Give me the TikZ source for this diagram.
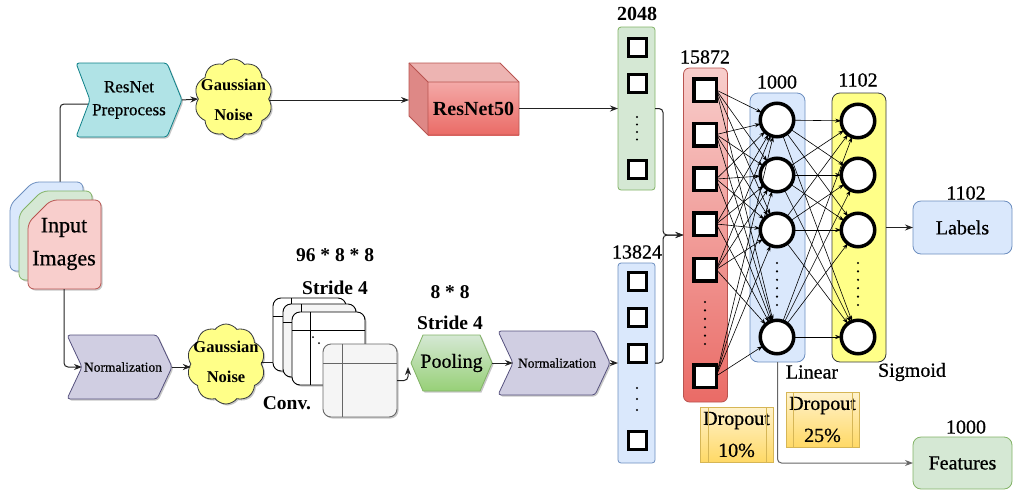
\documentclass[tikz,border=0pt]{standalone}
\usepackage{fontspec}
\setmainfont{Liberation Serif}
\newfontfamily\rgf{Liberation Serif}[FakeBold=0.6]
\usetikzlibrary{shapes.symbols,shapes.geometric,arrows.meta,calc,shadows}
\definecolor{bluef}{HTML}{DAE8FC}
\definecolor{bluel}{HTML}{6C8EBF}
\definecolor{greenf}{HTML}{D5E8D4}
\definecolor{greenl}{HTML}{82B366}
\definecolor{redf}{HTML}{F8CECC}
\definecolor{redd}{HTML}{EA6B66}
\definecolor{redl}{HTML}{B85450}
\definecolor{tealf}{HTML}{B0E3E6}
\definecolor{teall}{HTML}{0E8088}
\definecolor{purf}{HTML}{D0CEE2}
\definecolor{purl}{HTML}{56517E}
\definecolor{yelf}{HTML}{FFFF88}
\definecolor{yell}{HTML}{36393D}
\definecolor{orf}{HTML}{FFF2CC}
\definecolor{ord}{HTML}{FFD966}
\definecolor{orl}{HTML}{D6B656}
\definecolor{grf}{HTML}{F5F5F5}
\definecolor{grl}{HTML}{666666}
\definecolor{pgd}{HTML}{97D077}
\definecolor{linec}{HTML}{222222}
\definecolor{cubetop}{HTML}{EDB4B2}
\definecolor{cubeside}{HTML}{DE8886}
\definecolor{cubefront}{HTML}{F4A9A7}
\begin{document}
\begin{tikzpicture}[x=1pt,y=-1pt,
  every node/.style={inner sep=0pt, outer sep=0pt},
  shad/.style={drop shadow={shadow xshift=1.5pt, shadow yshift=-1.5pt, opacity=0.22, fill=black}},
  conn/.style={draw=linec, line width=1pt, rounded corners=4pt},
  arr/.style={conn, -{Stealth[length=8pt,width=6pt]}},
  fc/.style={draw=black, line width=0.6pt, -{Stealth[length=6pt,width=4pt]}},
  lab/.style={font=\rgf\fontsize{20}{24}\selectfont},
  blab/.style={font=\bfseries\fontsize{19.5}{24}\selectfont},
  sqs/.style={rectangle, draw=black, fill=white, line width=3pt, minimum size=18pt},
  sqb/.style={rectangle, draw=black, fill=white, line width=3.5pt, minimum size=22.5pt},
  neuron/.style={circle, draw=black, fill=white, line width=3.5pt, minimum size=33.5pt},
  gauss/.style={cloud, cloud puffs=10, cloud puff arc=105, cloud ignores aspect, draw=yell, fill=yelf, line width=0.8pt, minimum width=78pt, minimum height=80pt, shad},
  gtext/.style={align=center, font=\bfseries\fontsize{16.5}{30}\selectfont},
  cardbox/.style={rectangle, draw=black, line width=0.9pt, rounded corners=8pt, minimum width=73pt, minimum height=73pt},
  col/.style={rectangle, line width=0.8pt, rounded corners=3pt},
  dropbox/.style={rectangle, draw=orl, top color=orf, bottom color=ord, line width=0.8pt, minimum width=73pt, minimum height=55pt, align=center, font=\rgf\fontsize{20}{32}\selectfont},
  outbox/.style={rectangle, line width=0.8pt, rounded corners=8pt, minimum width=99pt, minimum height=53pt, font=\rgf\fontsize{20}{24}\selectfont}
]
\useasboundingbox (0,0) rectangle (1013,491);

% ---------- input images ----------
\coordinate (inpt) at (60,182);
\coordinate (inpb) at (64,289);
\coordinate (prein) at (89,104);
\draw[conn] (inpt) |- (prein);
\draw[draw=bluel, fill=bluef, line width=0.8pt, rounded corners=6pt, shad] (10,205) -- (33,182) -- (83,182) -- (83,271) -- (10,271) -- cycle;
\draw[draw=greenl, fill=greenf, line width=0.8pt, rounded corners=6pt, shad] (19,214) -- (42,191) -- (92,191) -- (92,280) -- (19,280) -- cycle;
\draw[draw=redl, fill=redf, line width=0.8pt, rounded corners=6pt, shad] (28,223) -- (51,200) -- (101,200) -- (101,289) -- (28,289) -- cycle;
\node[align=center, font=\rgf\fontsize{22}{33}\selectfont] (inp) at (64,244) {Input\\Images};

% ---------- top branch ----------
\draw[draw=teall, fill=tealf, line width=0.8pt, rounded corners=3pt, shad] (76,63) -- (167,63) -- (182,100) -- (167,137) -- (76,137) -- (90,100) -- cycle;
\node[align=center, font=\rgf\fontsize{17}{23}\selectfont] (pre) at (129,100) {ResNet\\Preprocess};
\coordinate (pretip) at (182,100);
\node[gauss] (cl1) at (233.5,99) {};
\node[gtext] (gt1) at (233.5,100) {Gaussian\\Noise};
\draw[arr] (pretip) -- (cl1.west);

% cube
\fill[cubeside] (409,63) -- (428,82) -- (428,135) -- (409,116) -- cycle;
\fill[cubetop] (409,63) -- (500,63) -- (519,82) -- (428,82) -- cycle;
\shade[top color=cubefront, bottom color=redd] (428,82) rectangle (519,135);
\draw[redl, line width=0.8pt, line join=round] (409,63) -- (500,63) -- (519,82) -- (519,135) -- (428,135) -- (409,116) -- cycle;
\draw[redl, line width=0.8pt] (409,63) -- (428,82) -- (519,82) (428,82) -- (428,135);
\node[font=\bfseries\fontsize{20}{24}\selectfont] (res) at (473.5,108.5) {ResNet50};
\coordinate (cubein) at (409,100);
\coordinate (cubeout) at (519,108.5);
\draw[arr] (cl1.east |- cubein) -- (cubein);

% ---------- bottom branch ----------
\draw[arr] (inpb) |- (82,367);
\draw[draw=purl, fill=purf, line width=0.8pt, rounded corners=3pt, shad] (67,335) -- (157,335) -- (172,367) -- (157,399) -- (67,399) -- (82,367) -- cycle;
\node[font=\rgf\fontsize{13.5}{16}\selectfont] (norm1) at (123,367) {Normalization};
\coordinate (n1tip) at (172,367);
\node[gauss] (cl2) at (226,364) {};
\node[gtext] (gt2) at (226,362) {Gaussian\\Noise};
\draw[arr] (n1tip) -- (cl2.west |- n1tip);

% conv cards
\node[cardbox, fill=white, shad] (c1) at (309.5,334.5) {};
\draw[line width=0.9pt] ($(c1.north west)+(18,0)$) -- ($(c1.south west)+(18,0)$) ($(c1.north west)+(0,18)$) -- ($(c1.north east)+(0,18)$);
\node[cardbox, fill=grf, shad] (c2) at (319.5,340.5) {};
\draw[line width=0.9pt] ($(c2.north west)+(18,0)$) -- ($(c2.south west)+(18,0)$) ($(c2.north west)+(0,18)$) -- ($(c2.north east)+(0,18)$);
\node[cardbox, fill=white, shad] (c3) at (328.5,348.5) {};
\draw[line width=0.9pt] ($(c3.north west)+(18,0)$) -- ($(c3.south west)+(18,0)$) ($(c3.north west)+(0,18)$) -- ($(c3.north east)+(0,18)$);
\fill (313,337) circle (1pt) (319,343) circle (1pt);
\node[cardbox, fill=grf, draw=grl, minimum width=74pt, shad] (c4) at (360,380.5) {};
\draw[grl, line width=0.9pt] ($(c4.north west)+(19,0)$) -- ($(c4.south west)+(19,0)$) ($(c4.north west)+(0,19)$) -- ($(c4.north east)+(0,19)$);
\draw[conn] (cl2.east |- 0,362) -- (c1.west |- 0,362);
\node[blab] (convsz) at (335,255) {96 * 8 * 8};
\node[blab] (convst) at (335,288) {Stride 4};
\node[blab] (convl) at (287,403) {Conv.};

% pooling
\draw[draw=greenl, top color=greenf, bottom color=pgd, line width=0.8pt, shad] (411,363) -- (423,335) -- (480,335) -- (492,363) -- (480,391) -- (423,391) -- cycle;
\node[lab] (pool) at (451.5,363) {Pooling};
\coordinate (poolin) at (408,367);
\coordinate (poolout) at (492,363);
\draw[arr] (c4.east) -| (poolin);
\node[blab] (poolsz) at (450,292) {8 * 8};
\node[blab] (poolst) at (450,323) {Stride 4};

% normalization 2
\draw[draw=purl, fill=purf, line width=0.8pt, rounded corners=3pt, shad] (498,331) -- (595,331) -- (610,363) -- (595,395) -- (498,395) -- (513,363) -- cycle;
\node[font=\rgf\fontsize{13.5}{16}\selectfont] (norm2) at (557,363) {Normalization};
\draw[arr] (poolout) -- (513,363);
\coordinate (n2tip) at (610,363);

% ---------- feature columns ----------
\node[col, draw=greenl, fill=greenf, minimum width=37pt, minimum height=163pt] (gcol) at (636.5,108.5) {};
\node[font=\bfseries\fontsize{20}{24}\selectfont] (l2048) at (637,14) {2048};
\node[sqs] (g1) at (637,47) {};
\node[sqs] (g2) at (637,83) {};
\node[sqs] (g3) at (637,169) {};
\foreach \yy in {117,124.5,132,139.5} \fill (637,\yy) circle (1.2pt);

\node[col, draw=bluel, fill=bluef, minimum width=37pt, minimum height=200pt] (bcol) at (636.5,363) {};
\node[lab] (l13824) at (637,252) {13824};
\node[sqs] (b1) at (637,281) {};
\node[sqs] (b2) at (637,317) {};
\node[sqs] (b3) at (637,353) {};
\node[sqs] (b4) at (637,440) {};
\foreach \yy in {388,399,410} \fill (637,\yy) circle (1.2pt);
\draw[arr] (n2tip) -- (bcol.west);

\node[col, draw=redl, top color=redf, bottom color=redd, rounded corners=6pt, minimum width=44pt, minimum height=334pt] (rcol) at (705.5,235) {};
\node[lab] (l15872) at (705,57) {15872};
\node[sqb] (r1) at (705,90) {};
\node[sqb] (r2) at (705,134.5) {};
\node[sqb] (r3) at (705,179) {};
\node[sqb] (r4) at (705,224) {};
\node[sqb] (r5) at (705,269.5) {};
\node[sqb] (r6) at (705,376) {};
\foreach \yy in {302,310.4,318.8,327.2,335.6,344} \fill (705,\yy) circle (1.2pt);

\draw[arr] (cubeout) -- (gcol.west);
\draw[arr] (gcol.east) -- ++(8,0) |- (rcol.west);
\draw[arr] (bcol.east) -- ++(8,0) |- (rcol.west);

% ---------- dense layers ----------
\node[col, draw=bluel, fill=bluef, rounded corners=8pt, minimum width=55pt, minimum height=269pt] (lin) at (777.5,227.5) {};
\node[lab] (l1000) at (777,82) {1000};
\node[col, draw=yell, fill=yelf, rounded corners=8pt, minimum width=54pt, minimum height=269pt] (sig) at (859,227.5) {};
\node[lab] (l1102) at (858,80) {1102};
\node[neuron] (n1) at (777,120) {};
\node[neuron] (n2) at (777,175) {};
\node[neuron] (n3) at (777,230) {};
\node[neuron] (n4) at (777,337) {};
\node[neuron] (s1) at (858,121) {};
\node[neuron] (s2) at (858,175) {};
\node[neuron] (s3) at (858,230) {};
\node[neuron] (s4) at (858,337) {};
\foreach \yy in {263,271.4,279.8,288.2,296.6,305} {\fill (777,\yy) circle (1.2pt); \fill (858,\yy) circle (1.2pt);}
\foreach \i in {1,...,6} \foreach \j in {1,...,4} \draw[fc] (r\i.east) -- (n\j);
\foreach \i in {1,...,4} \foreach \j in {1,...,4} \draw[fc] (n\i) -- (s\j);
\node[lab] (llin) at (812,372) {Linear};
\node[lab] (lsig) at (912,372) {Sigmoid};

% dropout boxes
\node[dropbox] (d10) at (736.5,434.5) {Dropout\\10\%};
\draw[orl, line width=0.8pt] ($(d10.north west)+(8,0)$) -- ($(d10.south west)+(8,0)$) ($(d10.north east)+(-7,0)$) -- ($(d10.south east)+(-7,0)$);
\node[dropbox] (d25) at (822.5,419.5) {Dropout\\25\%};
\draw[orl, line width=0.8pt] ($(d25.north west)+(7,0)$) -- ($(d25.south west)+(7,0)$) ($(d25.north east)+(-7,0)$) -- ($(d25.south east)+(-7,0)$);

% outputs
\node[outbox, draw=bluel, fill=bluef] (lbl) at (962.5,227.5) {Labels};
\node[lab] (l1102b) at (966,193) {1102};
\node[outbox, draw=greenl, fill=greenf, minimum height=52pt] (feat) at (962.5,463) {Features};
\node[lab] (l1000b) at (966,427) {1000};
\draw[arr] (sig.east) -- (lbl.west);
\draw[arr, draw=grl] (lin.south) |- (feat.west);
\end{tikzpicture}
\end{document}
